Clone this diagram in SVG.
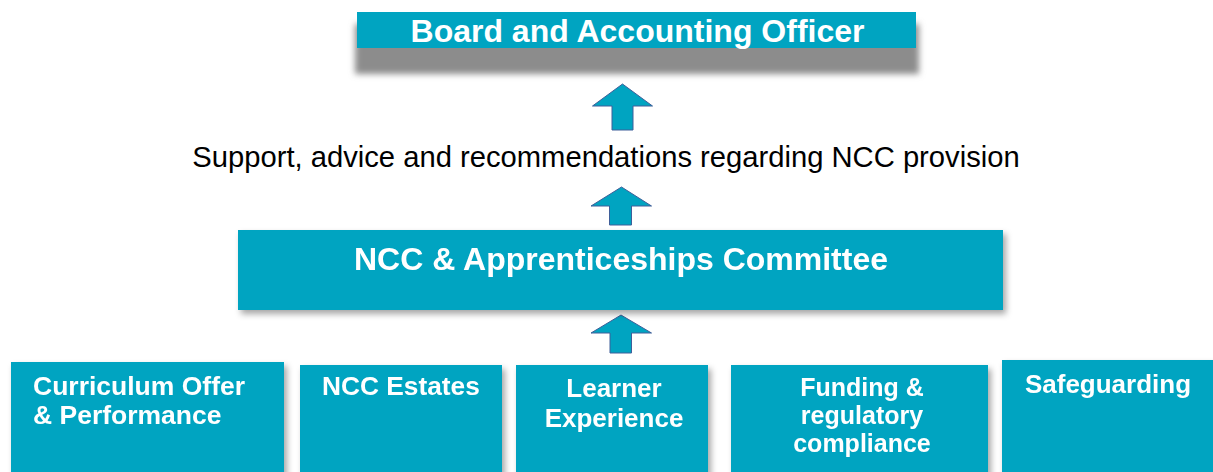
<svg xmlns="http://www.w3.org/2000/svg" width="1213" height="472" viewBox="0 0 1213 472">
<style>
.box{fill:#00A4C1}
.t{font-family:"Liberation Sans",Arial,sans-serif;font-weight:bold;fill:#fff}
.c{text-anchor:middle}
.arrow{fill:#00A4C1;stroke:#3F5F99;stroke-width:1}
.lbl{font-family:"Liberation Sans",Arial,sans-serif;font-size:29.2px;fill:#000;text-anchor:middle}
</style>
<defs>
<filter id="topsh" x="-10%" y="-50%" width="120%" height="250%">
<feGaussianBlur stdDeviation="3"/>
</filter>
<filter id="sh" x="-5%" y="-10%" width="115%" height="130%">
<feDropShadow dx="3" dy="4" stdDeviation="3" flood-color="#000" flood-opacity="0.35"/>
</filter>
</defs>
<rect width="1213" height="472" fill="#fff"/>
<g id="board">
<rect x="355" y="24" width="564" height="50" fill="#8c8c8c" filter="url(#topsh)"/>
<rect class="box" x="357" y="12" width="559" height="36"/>
<text class="t c" x="637.5" y="42" font-size="32">Board and Accounting Officer</text>
</g>
<g id="connectors">
<path class="arrow" d="M622.5,84 L652.5,106 L633,106 L633,130 L612,130 L612,106 L592.5,106 Z"/>
<path class="arrow" d="M621.5,187 L651.5,206 L631.5,206 L631.5,225 L609.5,225 L609.5,206 L591,206 Z"/>
<path class="arrow" d="M621,315 L651.5,333 L631.5,333 L631.5,353 L610,353 L610,333 L591,333 Z"/>
</g>
<text id="label" class="lbl" x="606" y="167">Support, advice and recommendations regarding NCC provision</text>
<g id="committee" filter="url(#sh)">
<rect class="box" x="238" y="230" width="765" height="80"/>
<text class="t c" x="621" y="270" font-size="32">NCC &amp; Apprenticeships Committee</text>
</g>
<g id="curriculum" filter="url(#sh)">
<rect class="box" x="11" y="362" width="273" height="115"/>
<text class="t" x="33" y="395" font-size="26.5">Curriculum Offer</text>
<text class="t" x="33" y="424" font-size="26.5">&amp; Performance</text>
</g>
<g id="estates" filter="url(#sh)">
<rect class="box" x="300" y="365" width="202" height="112"/>
<text class="t" x="322" y="395" font-size="26.3">NCC Estates</text>
</g>
<g id="learner" filter="url(#sh)">
<rect class="box" x="516" y="365" width="192" height="112"/>
<text class="t c" x="614" y="397" font-size="26">Learner</text>
<text class="t c" x="614" y="427" font-size="26">Experience</text>
</g>
<g id="funding" filter="url(#sh)">
<rect class="box" x="731" y="365" width="257" height="112"/>
<text class="t c" x="862" y="396" font-size="25">Funding &amp;</text>
<text class="t c" x="862" y="424" font-size="25">regulatory</text>
<text class="t c" x="862" y="452" font-size="25">compliance</text>
</g>
<g id="safeguarding" filter="url(#sh)">
<rect class="box" x="1002" y="360" width="215" height="117"/>
<text class="t c" x="1108" y="393" font-size="26">Safeguarding</text>
</g>
</svg>
